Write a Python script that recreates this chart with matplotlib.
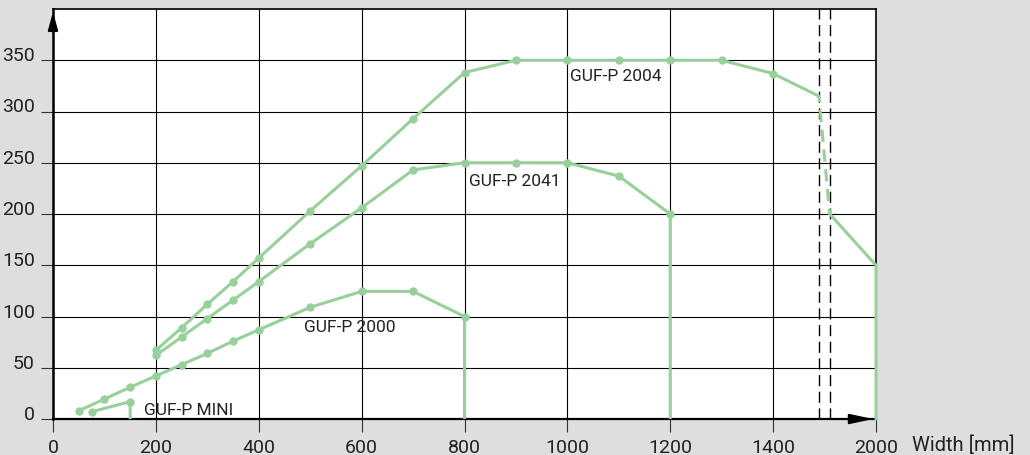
import matplotlib
matplotlib.use('Agg')
import matplotlib.pyplot as plt

# --- data (x in plot position; the axis is broken after 1400, position 1600 = 2000 mm) ---
mini_x = [75, 150]
mini_y = [7, 17]

p2000_x = [50, 100, 150, 200, 250, 300, 350, 400, 500, 600, 700, 800]
p2000_y = [8, 19.5, 31, 42, 53, 64, 76, 87, 109, 124.5, 124.5, 100]

p2041_x = [200, 250, 300, 350, 400, 500, 600, 700, 800, 900, 1000, 1100, 1200]
p2041_y = [62, 80, 98, 116, 134, 171, 206, 243, 250, 250, 250, 237, 200]

p2004_x = [200, 250, 300, 350, 400, 500, 600, 700, 800, 900, 1000, 1100, 1200, 1300, 1400]
p2004_y = [67, 89, 112, 134, 157, 203, 247, 293, 338, 350, 350, 350, 350, 350, 337]
p2004_break_x = [1489, 1510]
p2004_break_y = [315, 200]
p2004_end_x = [1510, 1600]
p2004_end_y = [200, 150]

break_lines = [1489, 1510]

xtick_pos = [0, 200, 400, 600, 800, 1000, 1200, 1400, 1600]
xtick_lab = ['0', '200', '400', '600', '800', '1000', '1200', '1400', '2000']
ytick_pos = [0, 50, 100, 150, 200, 250, 300, 350]

labels = ['GUF-P MINI', 'GUF-P 2000', 'GUF-P 2041', 'GUF-P 2004']
label_pos = [(176, 5), (487, 86), (808, 228), (1006, 331)]

GREEN = '#98d09b'
plt.rcParams['font.family'] = ['Roboto', 'DejaVu Sans']

fig = plt.figure(figsize=(10.3, 4.56), dpi=100, facecolor='#dedede')
ax = fig.add_axes([53 / 1030, 36 / 456, 823 / 1030, 410 / 456])
ax.set_facecolor('white')
ax.set_xlim(0, 1600)
ax.set_ylim(0, 400)

# grid
ax.set_xticks(xtick_pos)
ax.set_xticklabels(xtick_lab)
ax.set_yticks(ytick_pos)
ax.grid(True, color='black', linewidth=0.8)
ax.tick_params(axis='both', direction='out', length=9, width=0.8, color='#333333',
               labelsize=14, labelcolor='#222222')
ax.tick_params(axis='y', pad=4)
ax.tick_params(axis='x', pad=4.5)
plt.setp(ax.get_yticklabels(), va='baseline')

for s in ['top', 'right']:
    ax.spines[s].set_linewidth(1.2)
ax.spines['left'].set_linewidth(1.8)
ax.spines['bottom'].set_linewidth(1.6)

# break markers
for bx in break_lines:
    ax.axvline(bx, color='black', linewidth=1, linestyle=(0, (8, 4)), zorder=2.5)


def draw_series(xs, ys, drop=True):
    px = list(xs) + ([xs[-1]] if drop else [])
    py = list(ys) + ([0] if drop else [])
    ax.plot(px, py, color=GREEN, linewidth=2.2, marker='o', markersize=5,
            markevery=list(range(len(xs))), zorder=3, solid_capstyle='butt')


draw_series(mini_x, mini_y)
draw_series(p2000_x, p2000_y)
draw_series(p2041_x, p2041_y)

# GUF-P 2004 with axis break
ax.plot(p2004_x + [p2004_break_x[0]], p2004_y + [p2004_break_y[0]], color=GREEN,
        linewidth=2.2, marker='o', markersize=5, markevery=list(range(len(p2004_x))), zorder=3)
ax.plot(p2004_break_x, p2004_break_y, color=GREEN, linewidth=2.2,
        linestyle=(2, (4, 2.5)), zorder=3)
ax.plot(p2004_end_x + [p2004_end_x[-1]], p2004_end_y + [0], color=GREEN,
        linewidth=2.2, zorder=3, clip_on=False)

for txt, (tx, ty) in zip(labels, label_pos):
    ax.text(tx, ty, txt, fontsize=12.5, color='#222222', va='baseline', ha='left', zorder=4)

# axis arrows
ax.annotate('', xy=(0, 400), xytext=(0, 375), xycoords='data',
            arrowprops=dict(arrowstyle='-|>,head_length=1.1,head_width=0.3',
                            color='black', lw=1.5), annotation_clip=False)
ax.annotate('', xy=(1600, 0), xytext=(1555, 0), xycoords='data',
            arrowprops=dict(arrowstyle='-|>,head_length=1.4,head_width=0.3',
                            color='black', lw=1.5), annotation_clip=False)

ax.annotate('Width [mm]', xy=(1, 0), xycoords='axes fraction', xytext=(26, -22),
            textcoords='offset points', fontsize=14.5, color='#222222',
            ha='left', va='baseline', annotation_clip=False)

fig.savefig('out.png', dpi=100, facecolor=fig.get_facecolor())
